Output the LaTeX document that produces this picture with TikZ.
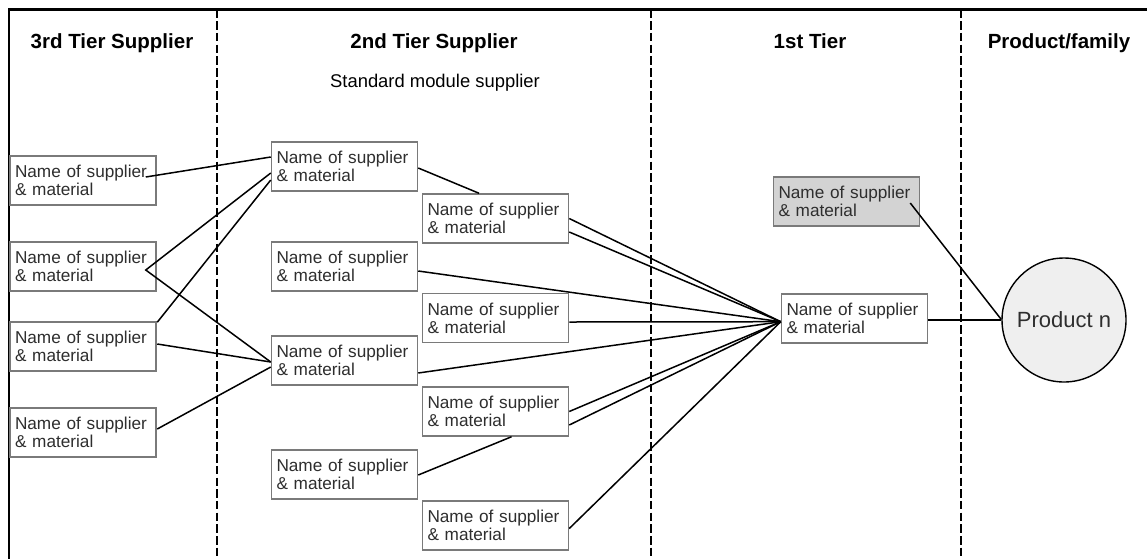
\documentclass[tikz,border=0pt]{standalone}
\usepackage{fontspec}
\setmainfont{Liberation Sans}
\usetikzlibrary{calc}
\definecolor{boxline}{HTML}{7A7A7A}
\definecolor{boxtext}{HTML}{2E2E2E}
\definecolor{shade}{HTML}{D3D3D3}
\definecolor{prodfill}{HTML}{EFEFEF}

\begin{document}
\begin{tikzpicture}[x=1pt,y=-1pt,
  supbox/.style={draw=boxline, fill=white, line width=1.5pt, rectangle,
    minimum width=146pt, minimum height=49pt, text width=136pt,
    inner xsep=5pt, inner ysep=0pt, align=left, text=boxtext,
    font=\fontsize{17.2}{18}\selectfont},
  link/.style={line width=1.5pt, draw=black},
  divider/.style={line width=2.6pt, dash pattern=on 8.5pt off 3.2pt},
  tierhead/.style={anchor=base, font=\fontsize{20.5}{24}\selectfont\bfseries},
]
\useasboundingbox (0,0) rectangle (1147,558);
\clip (0,0) rectangle (1147,558);

% outer frame (top and left edges) and column dividers
\draw[line width=2.5pt] (9,570) -- (9,9.5) -- (1170,9.5);
\draw[divider] (217,9.5) -- (217,560);
\draw[divider] (651,9.5) -- (651,560);
\draw[divider] (961,9.5) -- (961,560);

% column headings
\node[tierhead] (h3) at (112,48) {3rd Tier Supplier};
\node[tierhead] (h2) at (434,48) {2nd Tier Supplier};
\node[tierhead] (h1) at (810,48) {1st Tier};
\node[tierhead] (hp) at (1059,48) {Product/family};
\node[anchor=base, font=\fontsize{18.4}{22}\selectfont] (sub) at (435,87) {Standard module supplier};

% 3rd tier suppliers
\node[supbox] (A1) at (83,180.5) {Name of supplier\\\& material};
\node[supbox] (A2) at (83,266.5) {Name of supplier\\\& material};
\node[supbox] (A3) at (83,346.5) {Name of supplier\\\& material};
\node[supbox] (A4) at (83,432.5) {Name of supplier\\\& material};

% 2nd tier suppliers, left column
\node[supbox] (B1) at (344.5,166.5) {Name of supplier\\\& material};
\node[supbox] (B2) at (344.5,266.5) {Name of supplier\\\& material};
\node[supbox] (B3) at (344.5,360.5) {Name of supplier\\\& material};
\node[supbox] (B4) at (344.5,474.5) {Name of supplier\\\& material};

% 2nd tier suppliers, right column
\node[supbox] (C1) at (495.5,218.5) {Name of supplier\\\& material};
\node[supbox] (C2) at (495.5,318) {Name of supplier\\\& material};
\node[supbox] (C3) at (495.5,411.5) {Name of supplier\\\& material};
\node[supbox] (C4) at (495.5,525.5) {Name of supplier\\\& material};

% 1st tier
\node[supbox, fill=shade] (E) at (846.5,201.5) {Name of supplier\\\& material};
\node[supbox] (D) at (854.5,318.5) {Name of supplier\\\& material};

% product
\node[circle, draw=black, fill=prodfill, line width=1.4pt, minimum size=124pt,
  inner sep=0pt, text=boxtext, font=\fontsize{22}{26}\selectfont] (P) at (1064,320) {Product n};

% convergence point on the 1st tier box
\coordinate (hub) at ($(D.west)+(0,3.2)$);

% 3rd tier -> 2nd tier
\draw[link] ($(A1.east)+(-11,-3.5)$) -- ($(B1.west)+(0,-9.5)$);
\draw[link] ($(B1.west)+(0,6.5)$) -- ($(A2.east)+(-11,3.5)$) -- ($(B3.west)+(0,1.5)$);
\draw[link] ($(A3.north east)+(0.5,1)$) -- ($(B1.west)+(0,13.5)$);
\draw[link] ($(A3.east)+(0.5,-2.5)$) -- ($(B3.west)+(0,1.5)$);
\draw[link] ($(A4.east)+(0.5,-3.5)$) -- ($(B3.west)+(0,6.5)$);

% within the 2nd tier
\draw[link] ($(B1.east)+(0,1.5)$) -- ($(C1.north)+(-16.5,0)$);
\draw[link] ($(B4.east)+(0,0.5)$) -- ($(C3.south)+(16,0)$);

% 2nd tier -> 1st tier
\draw[link] ($(C1.east)+(0,0)$) -- (hub);
\draw[link] ($(C1.east)+(0,13.5)$) -- (hub);
\draw[link] ($(B2.east)+(0,4.5)$) -- (hub);
\draw[link] ($(C2.east)+(0,4)$) -- (hub);
\draw[link] ($(B3.east)+(0,12.5)$) -- (hub);
\draw[link] ($(C3.east)+(0,0)$) -- (hub);
\draw[link] ($(C3.east)+(0,13.5)$) -- (hub);
\draw[link] ($(C4.east)+(0,3)$) -- (hub);

% 1st tier -> product
\draw[link] ($(D.east)+(0,1.5)$) -- (P.west);
\draw[link] ($(E.east)+(-10,1.5)$) -- ($(P.west)+(0,-0.5)$);
\end{tikzpicture}
\end{document}
